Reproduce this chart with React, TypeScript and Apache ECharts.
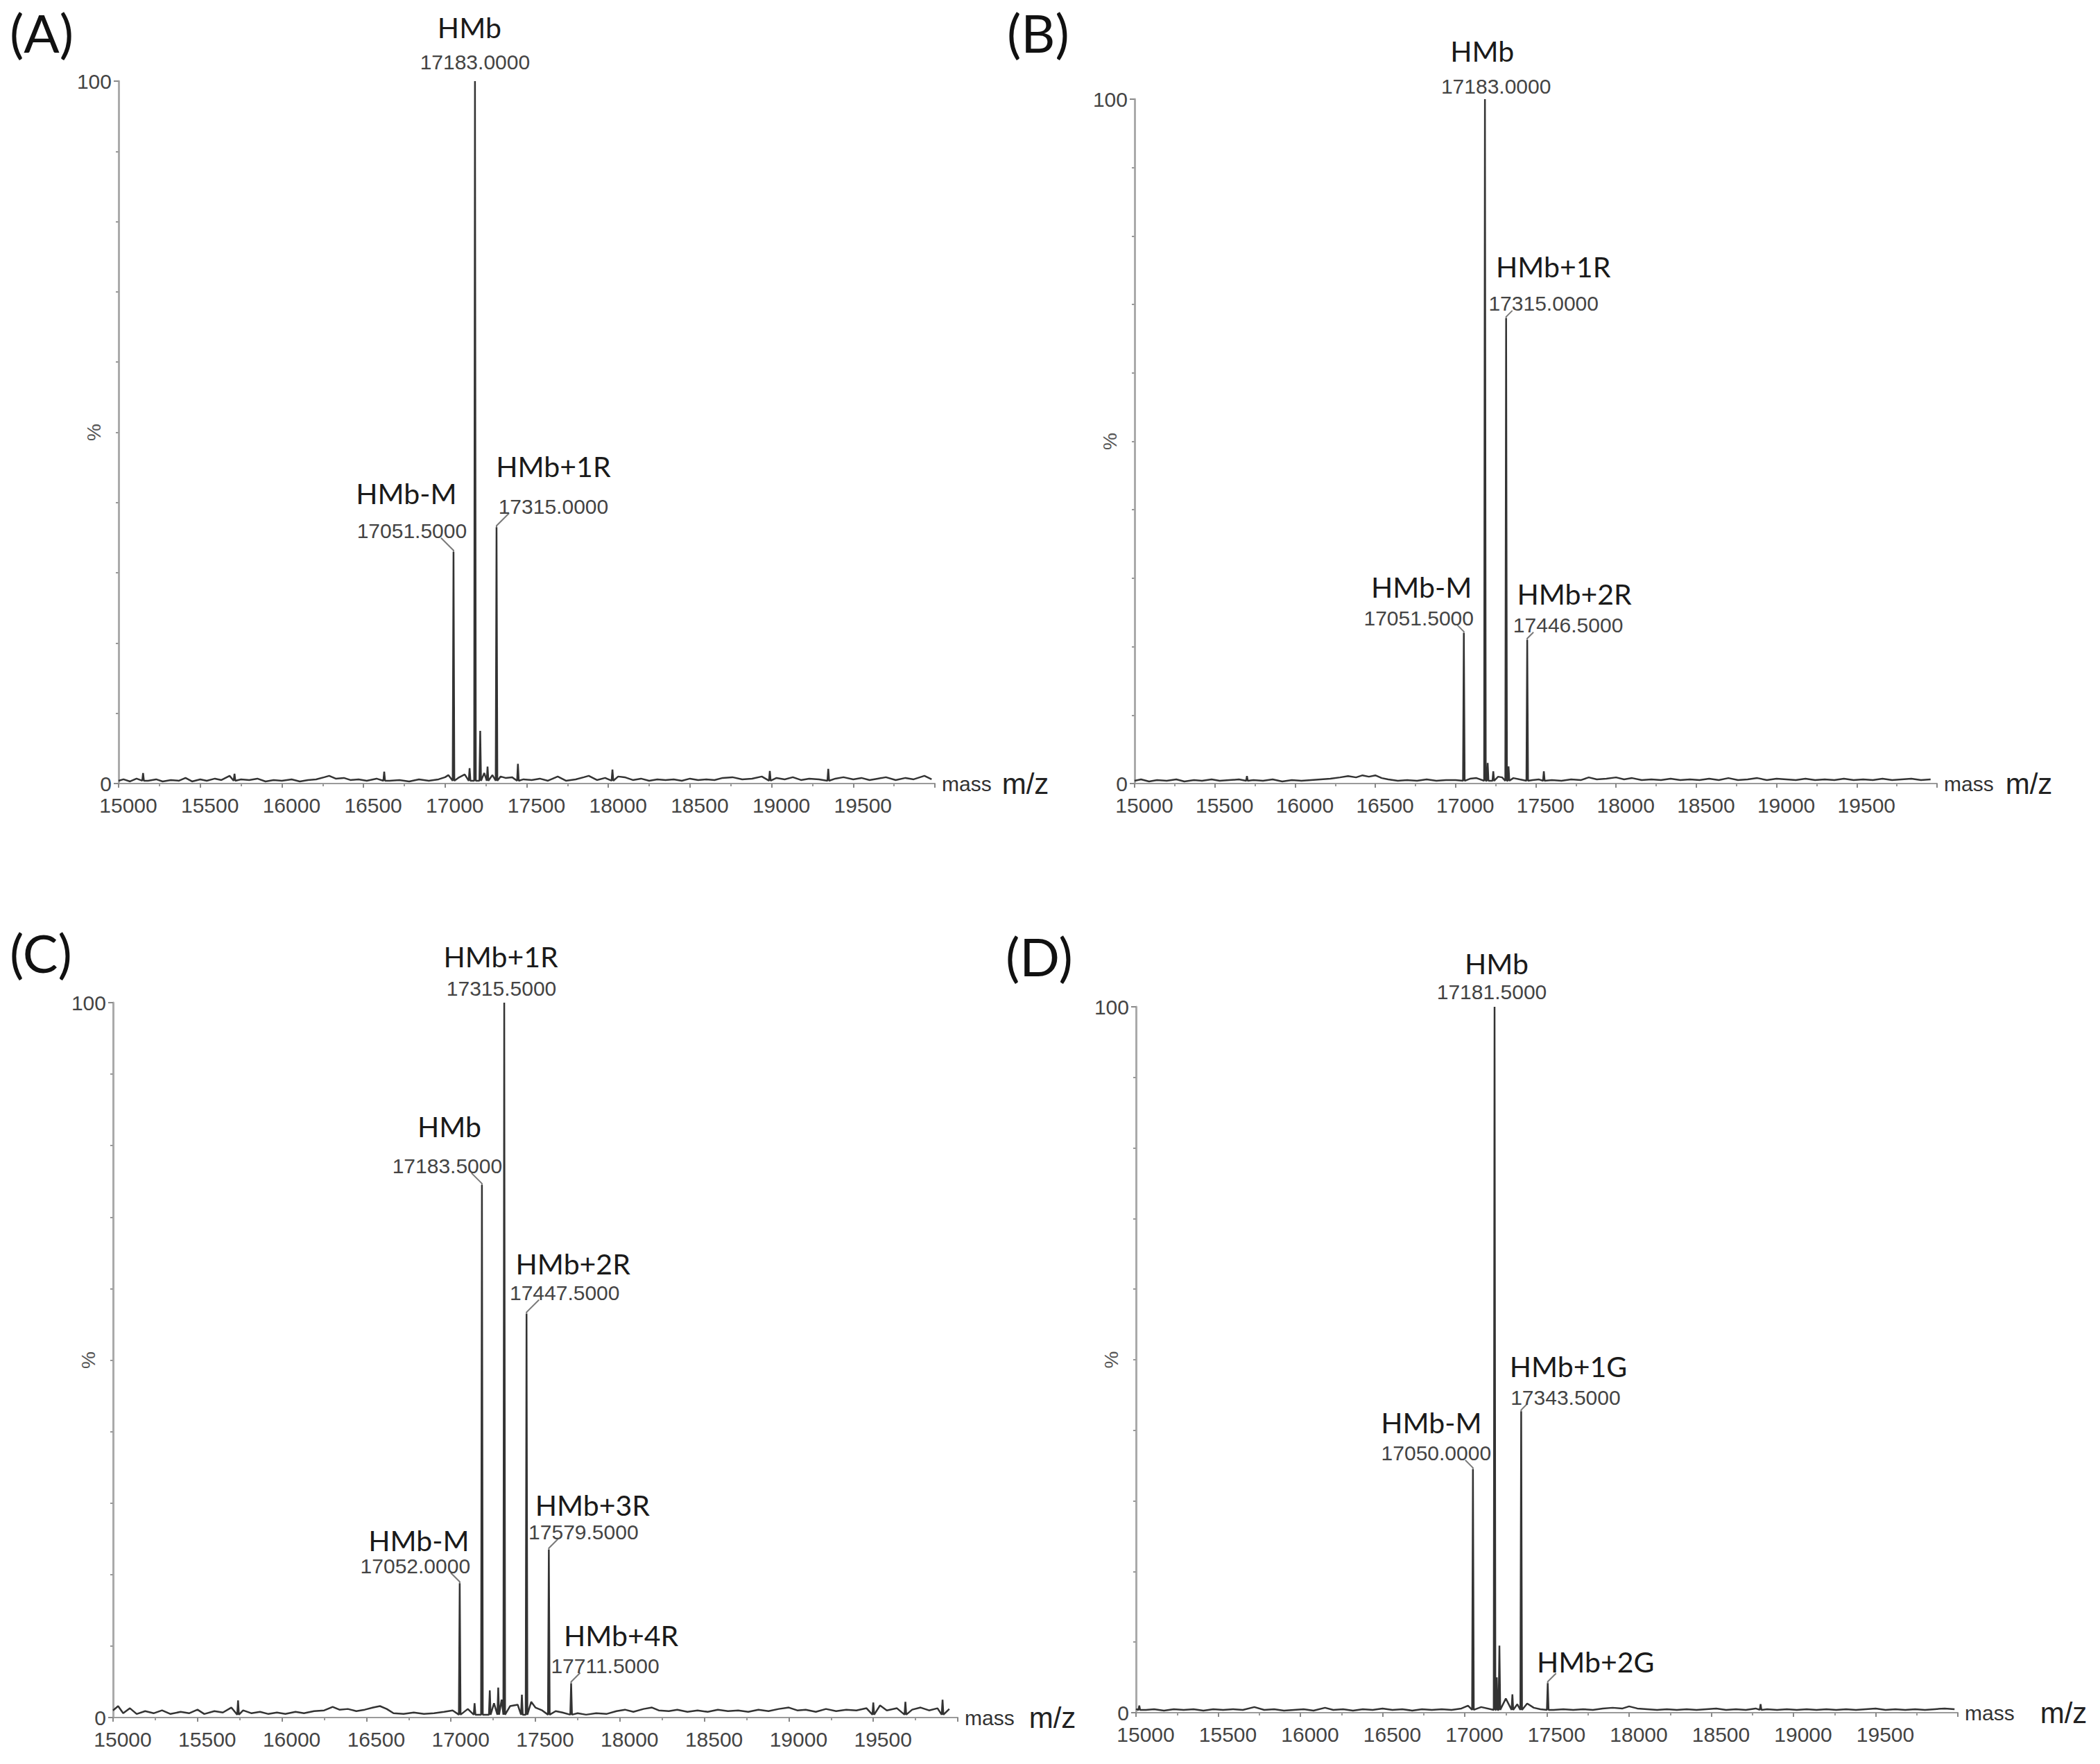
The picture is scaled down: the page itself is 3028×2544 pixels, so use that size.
import React, { useEffect, useRef } from "react";
import * as echarts from "echarts";

// ---------------- DATA ----------------
const panelLetters = ["(A)", "(B)", "(C)", "(D)"];
const xTickValues = [15000, 15500, 16000, 16500, 17000, 17500, 18000, 18500, 19000, 19500];

// Panel A
const namesA = ["HMb-M", "HMb", "HMb+1R"];
const mzA = [17051.5, 17183.0, 17315.0];
const intA = [33, 100, 36.5];
const numShownA = [true, true, true];
const minorA = [[15150, 1.5], [15710, 1.4], [16627, 1.7], [17150, 2.2], [17215, 7.5], [17260, 2.4], [17446, 2.8], [18025, 2.0], [18989, 1.8], [19347, 2.1]];
const noiseA = [[15000, 0.4], [15030, 0.6], [15070, 0.3], [15110, 0.7], [15180, 0.4], [15230, 0.6], [15270, 0.3], [15320, 0.5], [15370, 0.4], [15410, 0.8], [15450, 0.3], [15500, 0.6], [15540, 0.4], [15590, 0.7], [15630, 0.5], [15680, 1.1], [15750, 0.6], [15800, 0.5], [15850, 0.7], [15900, 0.3], [15950, 0.5], [16000, 0.4], [16060, 0.6], [16110, 0.3], [16160, 0.5], [16210, 0.6], [16260, 0.9], [16290, 1.1], [16330, 0.7], [16380, 0.8], [16420, 0.5], [16470, 0.6], [16520, 0.4], [16580, 0.7], [16660, 0.4], [16720, 0.5], [16780, 0.3], [16840, 0.6], [16900, 0.4], [16960, 0.6], [17000, 0.9], [17020, 1.2], [17080, 0.8], [17120, 1.3], [17240, 1.5], [17290, 1.2], [17340, 1.0], [17370, 0.8], [17410, 0.9], [17480, 0.6], [17530, 0.5], [17580, 0.7], [17630, 0.4], [17690, 1.0], [17740, 0.4], [17800, 0.6], [17850, 0.9], [17880, 1.1], [17930, 0.5], [17980, 0.8], [18060, 1.0], [18100, 0.9], [18150, 0.5], [18200, 0.7], [18250, 0.4], [18300, 0.6], [18350, 0.5], [18400, 0.6], [18450, 0.4], [18500, 0.7], [18550, 0.5], [18600, 0.6], [18650, 0.5], [18700, 0.8], [18760, 0.9], [18820, 0.6], [18880, 0.7], [18940, 1.0], [19030, 0.8], [19080, 0.6], [19130, 0.9], [19180, 0.5], [19230, 0.7], [19290, 0.6], [19390, 0.7], [19440, 0.9], [19500, 0.6], [19550, 0.8], [19600, 0.5], [19650, 0.7], [19700, 0.9], [19760, 0.5], [19820, 0.8], [19870, 0.6], [19936, 1.1], [19980, 0.6]];

// Panel B
const namesB = ["HMb-M", "HMb", "HMb+1R", "HMb+2R"];
const mzB = [17051.5, 17183.0, 17315.0, 17446.5];
const intB = [22, 100, 68, 21];
const numShownB = [true, true, true, true];
const minorB = [[15700, 1.1], [17200, 3.0], [17235, 1.8], [17330, 2.5], [17550, 1.8]];
const noiseB = [[15000, 0.4], [15040, 0.6], [15090, 0.3], [15140, 0.5], [15200, 0.4], [15260, 0.6], [15310, 0.3], [15370, 0.5], [15420, 0.4], [15480, 0.6], [15530, 0.4], [15590, 0.5], [15650, 0.6], [15740, 0.5], [15800, 0.4], [15860, 0.6], [15920, 0.3], [15980, 0.5], [16040, 0.4], [16100, 0.5], [16160, 0.6], [16220, 0.7], [16280, 0.9], [16330, 1.1], [16380, 0.9], [16420, 1.2], [16460, 1.0], [16500, 1.2], [16540, 0.8], [16580, 0.6], [16640, 0.4], [16700, 0.5], [16760, 0.4], [16820, 0.6], [16880, 0.4], [16940, 0.5], [17000, 0.5], [17090, 0.7], [17130, 0.8], [17265, 1.0], [17290, 0.9], [17360, 0.8], [17400, 0.6], [17480, 0.5], [17520, 0.6], [17600, 0.5], [17660, 0.4], [17720, 0.6], [17780, 0.5], [17830, 0.9], [17880, 0.6], [17940, 0.7], [18000, 0.9], [18050, 0.6], [18100, 0.8], [18160, 0.5], [18220, 0.6], [18280, 0.5], [18340, 0.7], [18400, 0.5], [18460, 0.6], [18520, 0.5], [18580, 0.7], [18640, 0.5], [18700, 0.8], [18760, 0.5], [18820, 0.6], [18880, 0.8], [18940, 0.5], [19000, 0.7], [19060, 0.6], [19120, 0.5], [19180, 0.7], [19240, 0.5], [19300, 0.6], [19360, 0.5], [19420, 0.7], [19480, 0.5], [19540, 0.6], [19600, 0.5], [19660, 0.7], [19720, 0.5], [19780, 0.6], [19840, 0.7], [19900, 0.5], [19960, 0.6]];

// Panel C
const namesC = ["HMb-M", "HMb", "HMb+1R", "HMb+2R", "HMb+3R", "HMb+4R"];
const mzC = [17052.0, 17183.5, 17315.5, 17447.5, 17579.5, 17711.5];
const intC = [18.8, 74.5, 100, 56.5, 23.5, 4.8];
const numShownC = [true, true, true, true, true, true];
const minorC = [[15740, 2.4], [17140, 2.0], [17230, 3.8], [17280, 4.2], [17420, 3.2], [19500, 2.1], [19690, 2.2], [19910, 2.5]];
const noiseC = [[15000, 1.0], [15030, 1.6], [15060, 0.6], [15100, 1.3], [15140, 0.5], [15190, 0.9], [15240, 0.6], [15290, 1.0], [15340, 0.5], [15400, 0.8], [15450, 0.6], [15500, 1.1], [15540, 0.5], [15600, 0.9], [15650, 0.7], [15700, 1.4], [15770, 1.0], [15820, 0.6], [15870, 0.8], [15920, 0.5], [15970, 0.7], [16020, 0.5], [16080, 0.8], [16130, 0.6], [16190, 0.9], [16250, 1.0], [16300, 1.5], [16340, 1.1], [16390, 1.2], [16440, 0.9], [16490, 1.1], [16540, 1.4], [16580, 1.6], [16620, 1.2], [16660, 0.6], [16720, 0.5], [16780, 0.7], [16840, 0.5], [16900, 0.6], [16960, 0.8], [17010, 1.0], [17100, 1.2], [17255, 2.0], [17300, 2.5], [17350, 1.6], [17395, 1.8], [17475, 2.2], [17500, 1.4], [17540, 1.0], [17620, 0.9], [17660, 0.7], [17750, 0.6], [17800, 0.4], [17860, 0.6], [17920, 0.5], [17980, 0.9], [18030, 1.1], [18080, 0.8], [18140, 1.2], [18190, 1.4], [18230, 1.0], [18290, 0.9], [18340, 1.1], [18400, 0.8], [18460, 1.0], [18520, 0.8], [18580, 1.1], [18640, 0.9], [18700, 1.0], [18760, 0.8], [18820, 1.1], [18880, 0.9], [18940, 1.2], [19000, 1.4], [19050, 1.0], [19100, 1.1], [19160, 0.8], [19220, 1.2], [19280, 0.9], [19340, 1.1], [19400, 1.0], [19460, 1.3], [19540, 1.7], [19580, 1.0], [19640, 1.3], [19730, 1.1], [19780, 1.4], [19830, 1.0], [19880, 1.3], [19950, 1.2]];

// Panel D
const namesD = ["HMb-M", "HMb", "HMb+1G", "HMb+2G"];
const mzD = [17050.0, 17181.5, 17343.5, 17505];
const intD = [34.5, 100, 42.7, 4.2];
const numShownD = [true, true, true, false];
const minorD = [[15020, 1.0], [17195, 5.0], [17211, 9.5], [17290, 2.6], [18800, 1.2]];
const noiseD = [[15000, 0.5], [15060, 0.4], [15110, 0.5], [15170, 0.3], [15230, 0.5], [15290, 0.4], [15350, 0.5], [15410, 0.3], [15470, 0.5], [15530, 0.4], [15590, 0.5], [15650, 0.4], [15720, 0.8], [15780, 0.4], [15840, 0.5], [15900, 0.3], [15960, 0.4], [16020, 0.5], [16080, 0.3], [16150, 0.7], [16200, 0.4], [16260, 0.5], [16320, 0.3], [16380, 0.5], [16440, 0.4], [16500, 0.6], [16560, 0.4], [16620, 0.5], [16680, 0.3], [16740, 0.5], [16800, 0.4], [16860, 0.5], [16920, 0.4], [16980, 0.6], [17020, 1.0], [17100, 0.8], [17250, 2.0], [17320, 1.2], [17380, 1.3], [17420, 0.7], [17460, 0.5], [17540, 0.4], [17600, 0.5], [17660, 0.4], [17720, 0.5], [17780, 0.4], [17840, 0.6], [17900, 0.7], [17960, 0.6], [18000, 0.9], [18050, 0.6], [18110, 0.5], [18170, 0.4], [18230, 0.5], [18290, 0.4], [18350, 0.5], [18410, 0.4], [18470, 0.5], [18530, 0.6], [18590, 0.4], [18650, 0.5], [18710, 0.4], [18770, 0.6], [18840, 0.5], [18900, 0.4], [18960, 0.5], [19020, 0.4], [19080, 0.5], [19140, 0.4], [19200, 0.5], [19260, 0.4], [19320, 0.5], [19380, 0.4], [19440, 0.5], [19500, 0.6], [19560, 0.4], [19620, 0.5], [19680, 0.4], [19740, 0.5], [19800, 0.4], [19860, 0.5], [19920, 0.6], [19980, 0.5]];

// ---------------- LAYOUT (pixels, not data) ----------------
// label offsets relative to the peak top: number (ndx, ndy), name (mdx, mdy), leader side ld
const layoutA = [
  { ndx: -60, ndy: 30, mdx: -68, mdy: 84, ld: -1 },
  { ndx: 0, ndy: 28, mdx: -8, mdy: 78, ld: 0 },
  { ndx: 82, ndy: 30, mdx: 82, mdy: 88, ld: 1 },
];
const layoutB = [
  { ndx: -65, ndy: 21, mdx: -61, mdy: 66, ld: -1 },
  { ndx: 16, ndy: 19, mdx: -4, mdy: 70, ld: 0 },
  { ndx: 54, ndy: 21, mdx: 68, mdy: 74, ld: 1 },
  { ndx: 59, ndy: 21, mdx: 68, mdy: 66, ld: 1 },
];
const layoutC = [
  { ndx: -64, ndy: 25, mdx: -59, mdy: 62, ld: -1 },
  { ndx: -50, ndy: 27, mdx: -47, mdy: 84, ld: -1 },
  { ndx: -4, ndy: 21, mdx: -5, mdy: 67, ld: 0 },
  { ndx: 55, ndy: 30, mdx: 67, mdy: 72, ld: 1 },
  { ndx: 50, ndy: 25, mdx: 63, mdy: 64, ld: 1 },
  { ndx: 49, ndy: 25, mdx: 72, mdy: 69, ld: 1 },
];
const layoutD = [
  { ndx: -53, ndy: 23, mdx: -60, mdy: 67, ld: -1 },
  { ndx: -4, ndy: 22, mdx: 3, mdy: 63, ld: 0 },
  { ndx: 64, ndy: 20, mdx: 68, mdy: 65, ld: 1 },
  { ndx: 0, ndy: 0, mdx: 69, mdy: 31, ld: 1 },
];

const SANS = '"Liberation Sans", Arial, sans-serif';
const NUM_FONT = '30px "Liberation Sans", Arial, sans-serif';
const NAME_FONT = '41px Lato, "Open Sans", sans-serif';

const panels = [
  { names: namesA, mz: mzA, inten: intA, shown: numShownA, minor: minorA, noise: noiseA, layout: layoutA,
    grid: { left: 171, top: 117, width: 1177, height: 1013 }, zGap: 15, letter: { x: 14, y: 46 } },
  { names: namesB, mz: mzB, inten: intB, shown: numShownB, minor: minorB, noise: noiseB, layout: layoutB,
    grid: { left: 1636, top: 143, width: 1157, height: 987 }, zGap: 17, letter: { x: 1452, y: 46 } },
  { names: namesC, mz: mzC, inten: intC, shown: numShownC, minor: minorC, noise: noiseC, layout: layoutC,
    grid: { left: 163, top: 1446, width: 1218, height: 1031 }, zGap: 21, letter: { x: 14, y: 1373 } },
  { names: namesD, mz: mzD, inten: intD, shown: numShownD, minor: minorD, noise: noiseD, layout: layoutD,
    grid: { left: 1638, top: 1452, width: 1185, height: 1018 }, zGap: 37, letter: { x: 1450, y: 1378 } },
];

const PEAK_HALF = 5;
const BASE = 0.4;

function spectrum(p: any) {
  const pts: number[][] = [];
  p.noise.forEach((d: number[]) => pts.push([d[0], d[1]]));
  const addPeak = (m: number, h: number) => {
    pts.push([m - PEAK_HALF, BASE]);
    pts.push([m, h]);
    pts.push([m + PEAK_HALF, BASE]);
  };
  p.minor.forEach((d: number[]) => addPeak(d[0], d[1]));
  p.mz.forEach((m: number, i: number) => addPeak(m, p.inten[i]));
  pts.sort((a, b) => a[0] - b[0]);
  return pts;
}

function buildOption() {
  const grid = panels.map((p) => ({ ...p.grid }));
  const xAxis = panels.map((p, i) => ({
    gridIndex: i,
    type: "value",
    min: 15000,
    max: 20000,
    interval: 500,
    axisLine: { show: true, onZero: false, lineStyle: { color: "#9a9a9a", width: 2 } },
    axisTick: { show: true, length: 6, lineStyle: { color: "#888", width: 2 } },
    minorTick: { show: true, splitNumber: 2, length: 4, lineStyle: { color: "#999", width: 2 } },
    splitLine: { show: false },
    minorSplitLine: { show: false },
    axisLabel: {
      show: true,
      showMaxLabel: false,
      showMinLabel: true,
      margin: 16,
      padding: [0, 0, 0, 28],
      color: "#444",
      fontSize: 30,
      fontFamily: SANS,
      formatter: (v: number) => (xTickValues.indexOf(v) >= 0 ? String(v) : ""),
    },
    name: "{m|mass}{z|m/z}",
    nameLocation: "end",
    nameGap: 10,
    nameTextStyle: {
      rich: {
        m: { fontSize: 30, color: "#333", fontFamily: SANS },
        z: { fontSize: 42, color: "#222", fontFamily: SANS, padding: [0, 0, 0, p.zGap] },
      },
    },
  }));
  const yAxis = panels.map((p, i) => ({
    gridIndex: i,
    type: "value",
    min: 0,
    max: 100,
    interval: 100,
    axisLine: { show: true, lineStyle: { color: "#aaa", width: 3 } },
    axisTick: { show: true, length: 7, lineStyle: { color: "#888", width: 2 } },
    minorTick: { show: true, splitNumber: 10, length: 4, lineStyle: { color: "#999", width: 2 } },
    splitLine: { show: false },
    minorSplitLine: { show: false },
    axisLabel: { margin: 10, color: "#444", fontSize: 30, fontFamily: SANS },
  }));

  const series: any[] = [];
  panels.forEach((p, i) => {
    series.push({
      type: "line",
      xAxisIndex: i,
      yAxisIndex: i,
      data: spectrum(p),
      showSymbol: false,
      symbol: "none",
      lineStyle: { color: "#333", width: 2.5 },
      z: 3,
      silent: true,
    });
    series.push({
      type: "custom",
      xAxisIndex: i,
      yAxisIndex: i,
      clip: false,
      z: 4,
      silent: true,
      data: p.mz.map((m: number, k: number) => [m, p.inten[k], k]),
      renderItem: (params: any, api: any) => {
        const k = api.value(2);
        const pt = api.coord([api.value(0), api.value(1)]);
        const L = p.layout[k];
        const children: any[] = [];
        if (L.ld !== 0) {
          const len = p.shown[k] ? Math.max(L.ndy - 12, 6) : 12;
          children.push({
            type: "polyline",
            shape: { points: [[pt[0], pt[1]], [pt[0], pt[1] - 2], [pt[0] + L.ld * len, pt[1] - 2 - len]] },
            style: { stroke: "#7a7a7a", lineWidth: 2, fill: null },
          });
        }
        if (p.shown[k]) {
          children.push({
            type: "text",
            style: {
              text: p.mz[k].toFixed(4),
              x: pt[0] + L.ndx,
              y: pt[1] - L.ndy,
              align: "center",
              verticalAlign: "middle",
              textAlign: "center",
              textVerticalAlign: "middle",
              font: NUM_FONT,
              fill: "#444",
            },
          });
        }
        children.push({
          type: "text",
          style: {
            text: p.names[k],
            x: pt[0] + L.mdx,
            y: pt[1] - L.mdy,
            align: "center",
            verticalAlign: "middle",
            textAlign: "center",
            textVerticalAlign: "middle",
            font: NAME_FONT,
            fill: "#1a1a1a",
          },
        });
        return { type: "group", children };
      },
    });
  });

  const graphic: any[] = [];
  panels.forEach((p, i) => {
    graphic.push({
      type: "text",
      x: p.letter.x,
      y: p.letter.y,
      style: {
        text: panelLetters[i],
        font: '76px Lato, "Open Sans", sans-serif',
        fill: "#111",
        verticalAlign: "middle",
        textVerticalAlign: "middle",
      },
    });
    graphic.push({
      type: "text",
      x: p.grid.left - 36,
      y: p.grid.top + p.grid.height / 2,
      rotation: Math.PI / 2,
      style: {
        text: "%",
        font: '28px "Liberation Sans", Arial, sans-serif',
        fill: "#555",
        align: "center",
        verticalAlign: "middle",
        textAlign: "center",
        textVerticalAlign: "middle",
      },
    });
  });

  return { animation: false, backgroundColor: "#ffffff", grid, xAxis, yAxis, series, graphic };
}

export default function App() {
  const ref = useRef<HTMLDivElement>(null);
  useEffect(() => {
    if (!ref.current) return;
    const chart = echarts.init(ref.current, null, { renderer: "svg" });
    chart.setOption(buildOption() as any);
    return () => chart.dispose();
  }, []);
  return (
    <div
      ref={ref}
      style={{ position: "fixed", left: 0, top: 0, width: 3028, height: 2544, background: "#fff" }}
    />
  );
}
